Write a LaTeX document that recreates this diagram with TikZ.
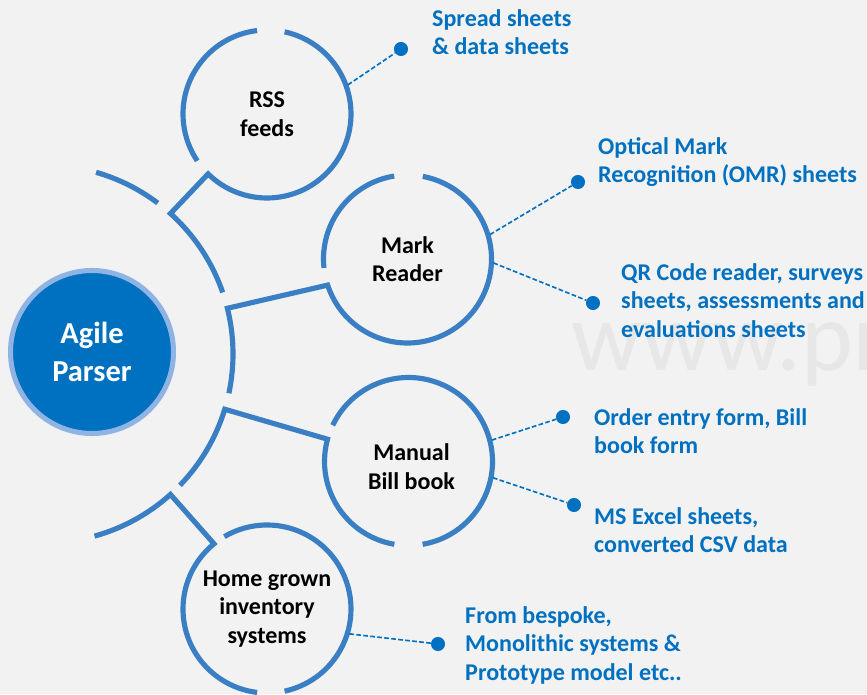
\documentclass[tikz,border=0pt]{standalone}
\usepackage{fontspec}
\setmainfont{Carlito}
\usetikzlibrary{calc}

\definecolor{bgcol}{HTML}{F2F2F2}
\definecolor{ringblue}{HTML}{3A7FC3}
\definecolor{deepblue}{HTML}{0070C0}
\definecolor{hubrim}{HTML}{8FB4E3}
\definecolor{markgray}{HTML}{E7E7E7}

\tikzset{
  ring/.style={draw=ringblue, line width=4.4pt, line join=miter},
  lead/.style={draw=deepblue, line width=1.4pt, dash pattern=on 4pt off 2pt},
  dot/.style={circle, fill=deepblue, inner sep=0pt, minimum size=12pt},
  lbl/.style={anchor=north west, inner sep=0pt, align=left, text=deepblue,
    font=\bfseries\fontsize{20.5}{24.3}\selectfont},
  inlbl/.style={align=center, inner sep=0pt, text=black,
    font=\bfseries\fontsize{20.5}{24.3}\selectfont},
}

\begin{document}
\begin{tikzpicture}[x=0.03cm, y=0.03cm]
  \fill[bgcol] (0,0) rectangle (867,694);
  \useasboundingbox (0,0) rectangle (867,694);
  % watermark
  \begin{scope}
    \clip (0,0) rectangle (867,694);
    \node[anchor=base west, inner sep=0pt, text=markgray,
      font=\fontsize{84}{84}\selectfont] (wmark) at (571,323) {www.pr};
  \end{scope}

  \def\bigR{189}
  \def\ringR{84}
  \coordinate (arcC) at (44,340);
  \coordinate (rss) at (267,580);
  \coordinate (mr) at (407.5,435);
  \coordinate (mbb) at (408.5,232.5);
  \coordinate (hgi) at (267,85);

  % big arc, free top piece
  \draw[ring] ($(arcC)+(53:\bigR)$) arc[start angle=53, end angle=74, radius=\bigR];
  % RSS feeds
  \draw[ring] ($(arcC)+(19:\bigR)$) arc[start angle=19, end angle=48, radius=\bigR]
    -- ($(rss)+(225.5:\ringR)$) arc[start angle=225.5, end angle=437.9, radius=\ringR];
  \draw[ring] ($(rss)+(96.8:\ringR)$) arc[start angle=96.8, end angle=213.9, radius=\ringR];
  % Mark Reader
  \draw[ring] ($(arcC)+(-12:\bigR)$) arc[start angle=-12, end angle=14, radius=\bigR]
    -- ($(mr)+(198.1:\ringR)$) arc[start angle=198.1, end angle=439.5, radius=\ringR];
  \draw[ring] ($(mr)+(99.1:\ringR)$) arc[start angle=99.1, end angle=186.1, radius=\ringR];
  % Manual Bill book
  \draw[ring] ($(arcC)+(-44:\bigR)$) arc[start angle=-44, end angle=-17, radius=\bigR]
    -- ($(mbb)+(164.6:\ringR)$) arc[start angle=164.6, end angle=260.3, radius=\ringR];
  \draw[ring] ($(mbb)+(154.5:\ringR)$) arc[start angle=154.5, end angle=-80.3, radius=\ringR];
  % Home grown inventory systems
  \draw[ring] ($(arcC)+(-74.5:\bigR)$) arc[start angle=-74.5, end angle=-48, radius=\bigR]
    -- ($(hgi)+(129.1:\ringR)$) arc[start angle=129.1, end angle=263.2, radius=\ringR];
  \draw[ring] ($(hgi)+(120.5:\ringR)$) arc[start angle=120.5, end angle=-77.9, radius=\ringR];

  % hub
  \node[circle, draw=hubrim, fill=deepblue, line width=4.3pt, minimum size=4.89cm,
    align=center, text=white, font=\bfseries\fontsize{26}{33}\selectfont]
    (parser) at (92,342) {Agile\\Parser};

  % circle texts
  \node[inlbl] (rssT) at (rss) {RSS\\feeds};
  \node[inlbl] (mrT) at (mr) {Mark\\Reader};
  \node[inlbl] (mbbT) at ($(mbb)+(3,-5)$) {Manual\\Bill book};
  \node[inlbl] (hgiT) at (hgi) {Home grown\\inventory\\systems};

  % dots and leads
  \node[dot] (rssD) at (401,645) {};
  \node[dot] (mrD1) at (578,512) {};
  \node[dot] (mrD2) at (593,391) {};
  \node[dot] (mbbD1) at (563,277) {};
  \node[dot] (mbbD2) at (574,189) {};
  \node[dot] (hgiD) at (438,50) {};
  \draw[lead] ($(rss)+(19.8:86)$) -- (rssD);
  \draw[lead] ($(mr)+(16.5:86)$) -- (mrD1);
  \draw[lead] ($(mr)+(-2.6:86)$) -- (mrD2);
  \draw[lead] ($(mbb)+(14.4:86)$) -- (mbbD1);
  \draw[lead] ($(mbb)+(-10.9:86)$) -- (mbbD2);
  \draw[lead] ($(hgi)+(-16.8:86)$) -- (hgiD);

  % blue labels
  \node[lbl] (rssL) at (432,685) {Spread sheets\\\& data sheets};
  \node[lbl] (mrL1) at (598,557) {Optical Mark\\Recognition (OMR) sheets};
  \node[lbl] (mrL2) at (621,431) {QR Code reader, surveys\\sheets, assessments and\\evaluations sheets};
  \node[lbl] (mbbL1) at (594,286) {Order entry form, Bill\\book form};
  \node[lbl] (mbbL2) at (594,187) {MS Excel sheets,\\converted CSV data};
  \node[lbl] (hgiL) at (465,88) {From bespoke,\\Monolithic systems \&\\Prototype model etc..};
\end{tikzpicture}
\end{document}
